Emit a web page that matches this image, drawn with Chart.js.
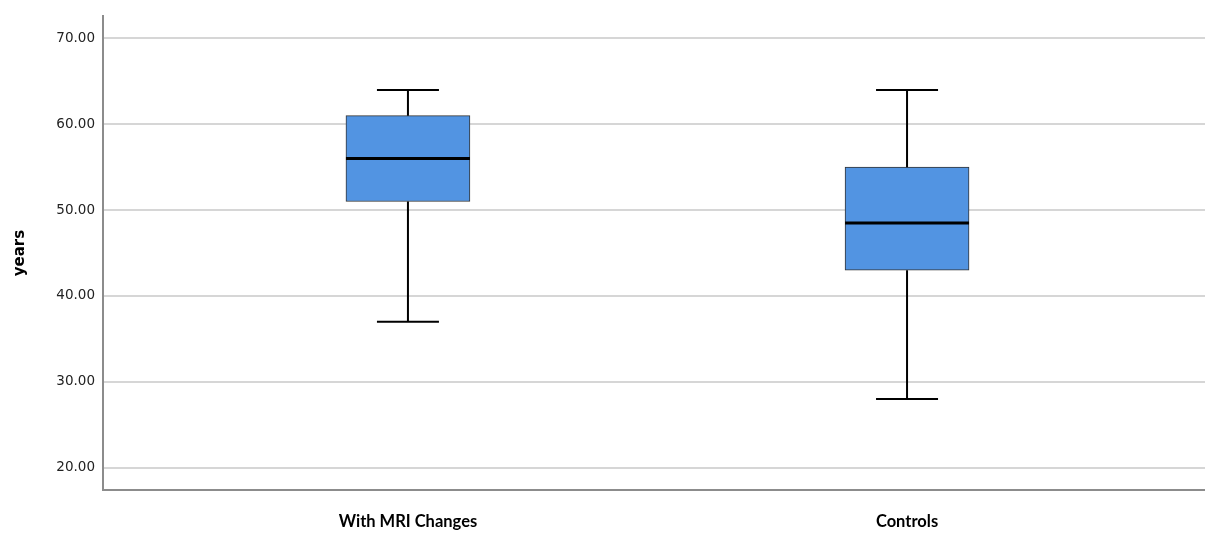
<!DOCTYPE html>
<html>
<head>
<meta charset="utf-8">
<title>Age by group</title>
<script src="https://cdn.jsdelivr.net/npm/chart.js@4/dist/chart.umd.min.js"></script>
<style>
  html, body { margin: 0; padding: 0; background: #ffffff; }
  canvas { display: block; }
</style>
</head>
<body>
<canvas id="chart" width="1205" height="533"></canvas>
<script>
// Group labels and five-number summaries (years)
const categories = ['With MRI Changes', 'Controls'];
const whiskerLow = [37, 28];
const quartile1 = [51, 43];
const median = [56, 48.5];
const quartile3 = [61, 55];
const whiskerHigh = [64, 64];
const yTickValues = [20, 30, 40, 50, 60, 70];

const BOX_WIDTH = 124;

// Whiskers, caps and median lines, placed through the chart's scales
const boxExtras = {
  id: 'boxExtras',
  afterDatasetsDraw(chart) {
    const { ctx, scales: { x, y } } = chart;
    ctx.save();
    ctx.strokeStyle = '#000000';
    ctx.lineCap = 'butt';
    categories.forEach((_, i) => {
      const cx = x.getPixelForValue(i + 1);
      const half = BOX_WIDTH / 2;
      const capHalf = BOX_WIDTH / 4;
      ctx.lineWidth = 2;
      ctx.beginPath();
      ctx.moveTo(cx, y.getPixelForValue(quartile3[i]));
      ctx.lineTo(cx, y.getPixelForValue(whiskerHigh[i]));
      ctx.moveTo(cx, y.getPixelForValue(quartile1[i]));
      ctx.lineTo(cx, y.getPixelForValue(whiskerLow[i]));
      ctx.moveTo(cx - capHalf, y.getPixelForValue(whiskerHigh[i]));
      ctx.lineTo(cx + capHalf, y.getPixelForValue(whiskerHigh[i]));
      ctx.moveTo(cx - capHalf, y.getPixelForValue(whiskerLow[i]));
      ctx.lineTo(cx + capHalf, y.getPixelForValue(whiskerLow[i]));
      ctx.stroke();
      ctx.lineWidth = 3;
      ctx.beginPath();
      ctx.moveTo(cx - half, y.getPixelForValue(median[i]));
      ctx.lineTo(cx + half, y.getPixelForValue(median[i]));
      ctx.stroke();
    });
    ctx.restore();
  }
};

new Chart(document.getElementById('chart'), {
  type: 'bar',
  data: {
    datasets: [{
      data: categories.map((_, i) => ({ x: i + 1, y: [quartile1[i], quartile3[i]] })),
      backgroundColor: '#5294e2',
      borderColor: '#333333',
      borderWidth: 1,
      borderSkipped: false,
      barThickness: BOX_WIDTH
    }]
  },
  options: {
    responsive: false,
    animation: false,
    layout: { padding: { top: 14, left: 0, right: 0, bottom: 0 } },
    plugins: {
      legend: { display: false },
      tooltip: { enabled: false }
    },
    scales: {
      x: {
        type: 'linear',
        offset: false,
        min: 0.389,
        max: 2.597,
        grid: { display: false, drawTicks: false },
        border: { display: true, color: '#8c8c8c', width: 2 },
        afterBuildTicks(scale) {
          scale.ticks = categories.map((_, i) => ({ value: i + 1 }));
        },
        afterFit(scale) { scale.height = 43; },
        ticks: {
          padding: 22,
          color: '#000000',
          font: { family: 'Lato', weight: 'bold', size: 16.5 },
          callback: (v) => categories[v - 1] ?? ''
        }
      },
      y: {
        min: 17.4,
        max: 72.6,
        grid: { color: '#d6d6d6', lineWidth: 2, drawTicks: false },
        border: { display: true, color: '#8c8c8c', width: 2 },
        afterBuildTicks(scale) {
          scale.ticks = yTickValues.map(v => ({ value: v }));
        },
        afterFit(scale) { scale.width = 103; },
        ticks: {
          padding: 8,
          color: '#222222',
          font: { family: 'DejaVu Sans', size: 13.5 },
          callback: (v) => Number(v).toFixed(2)
        },
        title: {
          display: true,
          text: 'years',
          color: '#000000',
          font: { family: 'DejaVu Sans', weight: 'bold', size: 15 },
          padding: { top: 11, bottom: 0 }
        }
      }
    }
  },
  plugins: [boxExtras]
});
</script>
</body>
</html>
